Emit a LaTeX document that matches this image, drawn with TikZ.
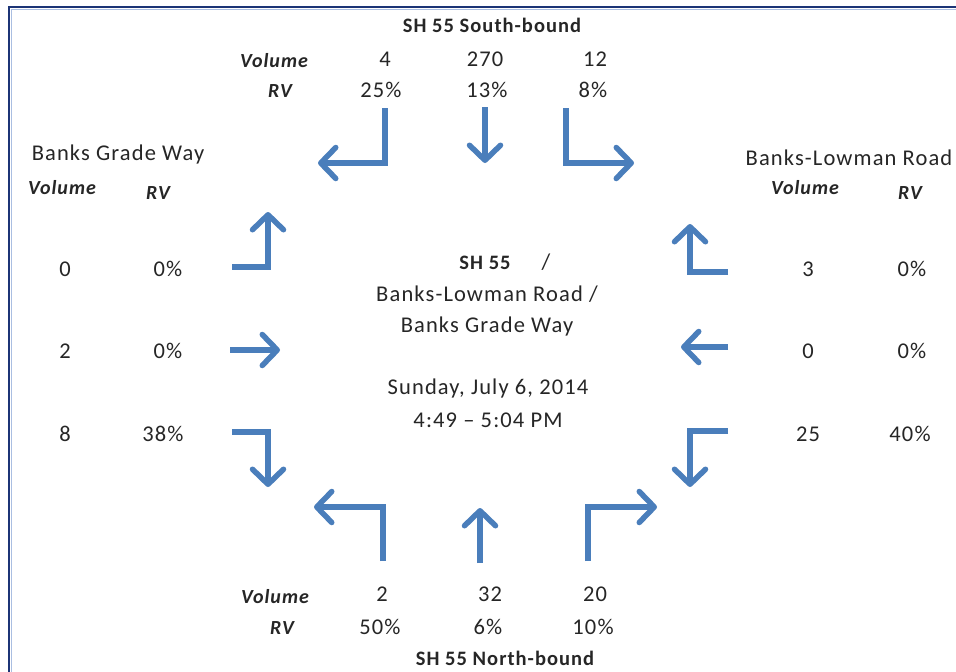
\documentclass[tikz,border=0pt]{standalone}
\usepackage{fontspec}
\setmainfont{Carlito}[LetterSpace=5]
\usetikzlibrary{arrows.meta}
\definecolor{arrblue}{RGB}{74,126,187}
\definecolor{navy}{RGB}{28,52,118}
\definecolor{lightnavy}{RGB}{170,190,225}
\tikzset{
  flow/.style={draw=arrblue, line width=5.5pt, line join=miter,
    -{Straight Barb[length=15pt,width=31pt,line cap=round,line join=round]}},
  txt/.style={inner sep=0pt, font=\fontsize{22.5}{26}\selectfont, text=black!85},
  lab/.style={txt, font=\fontsize{20}{24}\selectfont\bfseries\itshape},
  head/.style={txt, font=\fontsize{20.5}{24}\selectfont\bfseries},
}
\begin{document}
\begin{tikzpicture}[x=1pt,y=-1pt]
\useasboundingbox (0,0) rectangle (956,672);
\fill[white] (0,0) rectangle (956,672);
% border
\draw[navy, line width=2.5pt] (9,672) -- (9,7) -- (956,7);
\draw[lightnavy, line width=1pt] (11.5,672) -- (11.5,9.5) -- (956,9.5);

% ---- top: SH 55 South-bound
\node[head] (sbt) at (492,25) {SH 55 South-bound};
\node[lab] (sbv) at (274,61) {Volume};
\node[lab] (sbr) at (280,91) {RV};
\node[txt] (sb1v) at (385,59) {4};
\node[txt] (sb1r) at (381,90) {25\%};
\node[txt] (sb2v) at (485,59) {270};
\node[txt] (sb2r) at (487,90) {13\%};
\node[txt] (sb3v) at (595,59) {12};
\node[txt] (sb3r) at (593,90) {8\%};
\draw[flow] (385,108) -- (385,163) -- (318,163);
\draw[flow] (485,107) -- (485,163);
\draw[flow] (566,108) -- (566,163) -- (634,163);

% ---- left: Banks Grade Way
\node[txt] (wbt) at (118,154) {Banks Grade Way};
\node[lab] (wbv) at (62,188) {Volume};
\node[lab] (wbr) at (158,193) {RV};
\node[txt] (w1v) at (65,269) {0};
\node[txt] (w1r) at (168,269) {0\%};
\node[txt] (w2v) at (65,351) {2};
\node[txt] (w2r) at (168,351) {0\%};
\node[txt] (w3v) at (65,434) {8};
\node[txt] (w3r) at (163,434) {38\%};
\draw[flow] (232,267) -- (268,267) -- (268,212);
\draw[flow] (230,350) -- (280,350);
\draw[flow] (232,432) -- (268,432) -- (268,487);

% ---- right: Banks-Lowman Road
\node[txt] (ebt) at (849,158) {Banks-Lowman Road};
\node[lab] (ebv) at (805,188) {Volume};
\node[lab] (ebr) at (910,193) {RV};
\node[txt] (e1v) at (808,269) {3};
\node[txt] (e1r) at (912,269) {0\%};
\node[txt] (e2v) at (808,351) {0};
\node[txt] (e2r) at (912,351) {0\%};
\node[txt] (e3v) at (808,434) {25};
\node[txt] (e3r) at (910,434) {40\%};
\draw[flow] (728,272) -- (690,272) -- (690,224);
\draw[flow] (728,347) -- (681,347);
\draw[flow] (728,431) -- (690,431) -- (690,487);

% ---- bottom: SH 55 North-bound
\node[lab] (nbv) at (275,597) {Volume};
\node[lab] (nbr) at (282,628) {RV};
\node[txt] (nb1v) at (382,594) {2};
\node[txt] (nb1r) at (380,627) {50\%};
\node[txt] (nb2v) at (490,594) {32};
\node[txt] (nb2r) at (488,627) {6\%};
\node[txt] (nb3v) at (595,594) {20};
\node[txt] (nb3r) at (593,627) {10\%};
\node[head] (nbt) at (505,658) {SH 55 North-bound};
\draw[flow] (383,561) -- (383,507) -- (314,507);
\draw[flow] (480,563) -- (480,508);
\draw[flow] (588,561) -- (588,507) -- (657,507);

% ---- centre
\node[head] (c1) at (485,263) {SH 55};
\node[txt] (c1s) at (546,262) {/};
\node[txt] (c2) at (487,294) {Banks-Lowman Road /};
\node[txt] (c3) at (487,326) {Banks Grade Way};
\node[txt] (c4) at (488,388) {Sunday, July 6, 2014};
\node[txt] (c5) at (488,420) {4:49 -- 5:04 PM};
\end{tikzpicture}
\end{document}
